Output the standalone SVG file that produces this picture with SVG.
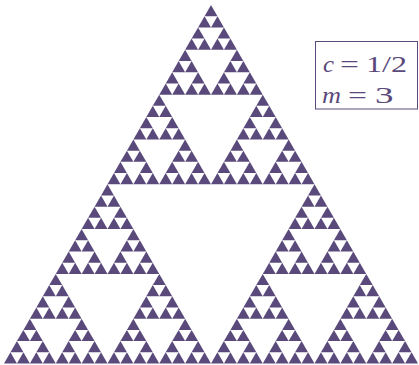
<svg xmlns="http://www.w3.org/2000/svg" xmlns:xlink="http://www.w3.org/1999/xlink" width="419" height="365" viewBox="0 0 419 365">
<style>
.tri{fill:#5a4a7b}
.lbl{font-family:"Liberation Serif","DejaVu Serif",serif;font-size:24px;fill:#5a4a7b}
.it{font-style:italic}
</style>
<defs>
<polygon id="L0" class="tri" points="0,0 -6.46875,11.203125 6.46875,11.203125"/>
<g id="L1"><use xlink:href="#L0" href="#L0"/><use xlink:href="#L0" href="#L0" x="-6.46875" y="11.203125"/><use xlink:href="#L0" href="#L0" x="6.46875" y="11.203125"/></g>
<g id="L2"><use href="#L1"/><use href="#L1" x="-12.9375" y="22.40625"/><use href="#L1" x="12.9375" y="22.40625"/></g>
<g id="L3"><use href="#L2"/><use href="#L2" x="-25.875" y="44.8125"/><use href="#L2" x="25.875" y="44.8125"/></g>
<g id="L4"><use href="#L3"/><use href="#L3" x="-51.75" y="89.625"/><use href="#L3" x="51.75" y="89.625"/></g>
<g id="L5"><use href="#L4"/><use href="#L4" x="-103.5" y="179.25"/><use href="#L4" x="103.5" y="179.25"/></g>
</defs>
<g id="sierpinski"><use href="#L5" x="211" y="5"/></g>
<g id="legend">
<rect x="315.5" y="41.5" width="102" height="67.5" fill="#fff" stroke="#5a4a7b" stroke-width="1"/>
<text class="lbl it" x="323" y="72" textLength="11" lengthAdjust="spacingAndGlyphs">c</text>
<text class="lbl" x="340" y="72" textLength="19" lengthAdjust="spacingAndGlyphs">=</text>
<text class="lbl" x="366" y="72" textLength="41" lengthAdjust="spacingAndGlyphs">1/2</text>
<text class="lbl it" x="322" y="103" textLength="19" lengthAdjust="spacingAndGlyphs">m</text>
<text class="lbl" x="348" y="103" textLength="19" lengthAdjust="spacingAndGlyphs">=</text>
<text class="lbl" x="375" y="103" textLength="18.5" lengthAdjust="spacingAndGlyphs">3</text>
</g>
</svg>
